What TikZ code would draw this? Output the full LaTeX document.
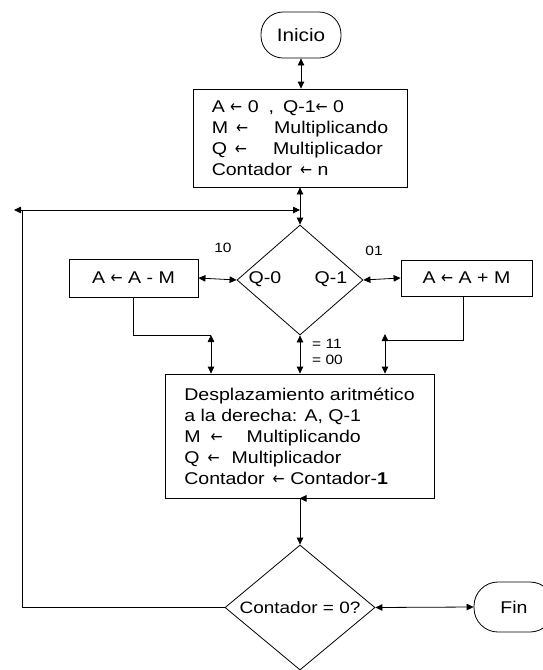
\documentclass[tikz,border=0pt]{standalone}
\usepackage{graphicx}
\usepackage{fontspec}
\setmainfont{Liberation Sans}[FakeStretch=1.15]
\newfontfamily\arrowfont{DejaVu Sans}
\usetikzlibrary{arrows.meta,shapes.geometric}
% assignment arrow
\newcommand\asg{{\arrowfont\scalebox{0.85}[1]{←}}}
\begin{document}
\begin{tikzpicture}[x=1pt,y=-1pt,
  line/.style={line width=0.8pt},
  conn/.style={line width=0.8pt,{Triangle[length=7pt,width=6.5pt]}-{Triangle[length=7pt,width=6.5pt]}},
  procbox/.style={draw,line width=0.8pt,align=left,inner sep=0pt,font=\fontsize{17}{21}\selectfont},
  decision/.style={draw,diamond,inner sep=0pt,line width=0.8pt},
  terminal/.style={draw,line width=0.8pt,inner sep=0pt},
  small/.style={inner sep=0pt,font=\fontsize{13.5}{15}\selectfont},
  mid/.style={inner sep=0pt,font=\fontsize{17}{20}\selectfont}]
\useasboundingbox (0,0) rectangle (542,670);

% terminals
\node[terminal,rounded corners=22pt,minimum width=80pt,minimum height=46pt,
      font=\fontsize{18}{20}\selectfont] (inicio) at (301,35) {Inicio};
\node[terminal,rounded corners=24pt,minimum width=80pt,minimum height=50pt,
      font=\fontsize{17}{20}\selectfont] (fin) at (514,607) {Fin};

% initialisation
\node[procbox,minimum width=214pt,minimum height=98pt] (init) at (300,138)
  {A \asg\ 0\hspace{10pt},\hspace{9pt}Q-1\asg\ 0\\
   M\hspace{8pt}\asg\hspace{26pt}Multiplicando\\
   Q\hspace{8pt}\asg\hspace{26pt}Multiplicador\\
   Contador\hspace{8pt}\asg\ n};

% Q0 Q-1 test and the two operations
\node[decision,minimum width=126pt,minimum height=110pt] (test) at (300,280) {};
\node[mid] (q0) at (265,279) {Q-0};
\node[mid] (q1) at (331,279) {Q-1};
\node[small] (c10) at (223,248) {10};
\node[small] (c01) at (374,251) {01};
\node[procbox,minimum width=129pt,minimum height=38pt] (sub) at (133.5,278) {A \asg\ A - M};
\node[procbox,minimum width=131pt,minimum height=36pt] (add) at (466.5,278) {A \asg\ A + M};

% shift step
\node[procbox,minimum width=269pt,minimum height=124pt] (shift) at (299.5,436)
  {Desplazamiento aritmético\\
   a la derecha: A, Q-1\\
   M\hspace{10pt}\asg\hspace{24pt}Multiplicando\\
   Q\hspace{8pt}\asg\hspace{12pt}Multiplicador\\
   Contador\hspace{8pt}\asg\ Contador-\textbf{1}};
\node[small,anchor=west] (e11) at (312,344) {= 11};
\node[small,anchor=west] (e00) at (312,360) {= 00};

% counter test
\node[decision,minimum width=150pt,minimum height=125pt,
      label={[font=\fontsize{16.5}{20}\selectfont]center:Contador = 0?}] (count) at (300,607.5) {};

% connectors
\coordinate (join) at (300,210);
\coordinate (loopcorner) at (22,210);
\coordinate (looptip) at (14,210);
\coordinate (subin) at (211,335);
\coordinate (addin) at (385,334);
\coordinate (addbend) at (385,340);

\draw[conn] (inicio.south) -- (inicio.south |- init.north);
\draw[conn] (init.south) -- (test.north);
\draw[conn] (looptip) -- (join);
\draw[line] (count.west) -| (loopcorner);
\draw[conn] (sub.east) -- (test.west);
\draw[conn] (test.east) -- (add.west);
\draw[line] (sub.south) |- (subin);
\draw[conn] (subin) -- (subin |- shift.north);
\draw[line] ([xshift=-3.5pt]add.south) |- (addbend);
\draw[conn] (addin) -- (addin |- shift.north);
\draw[conn] (test.south) -- (test.south |- shift.north);
\draw[conn] (shift.south) -- (shift.south -| count.north) -- (count.north);
\draw[conn] (count.east) -- (fin.west);
\end{tikzpicture}
\end{document}
